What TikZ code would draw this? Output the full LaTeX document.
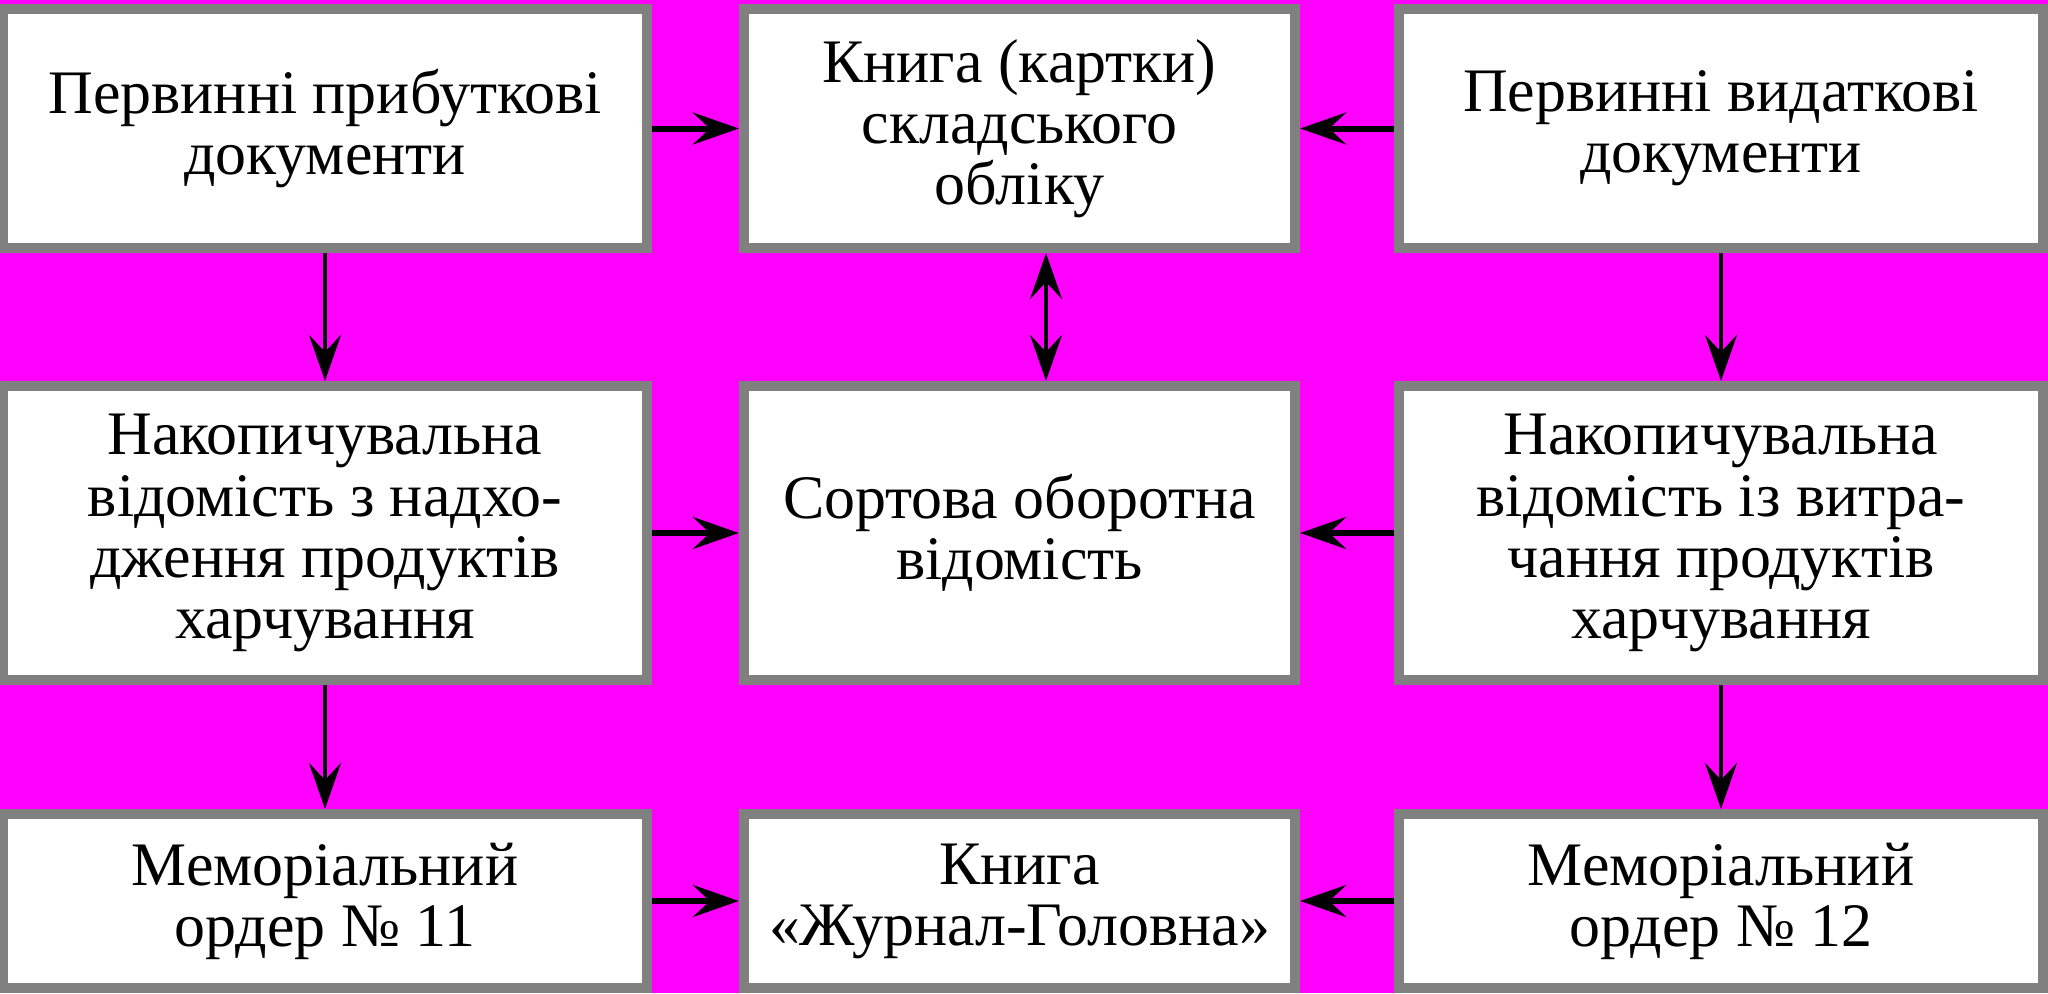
\documentclass[tikz,border=0pt]{standalone}
\usepackage{fontspec}
\setmainfont{Liberation Serif}
\usetikzlibrary{arrows.meta}
\definecolor{bgmag}{RGB}{255,0,255}
\definecolor{bordgray}{RGB}{128,128,128}

\begin{document}
\begin{tikzpicture}[x=0.01cm, y=-0.01cm,
  harr/.style={-{Stealth[length=4.6mm,width=3.2mm,inset=1.7mm]}, line width=0.6mm},
  varr/.style={-{Stealth[length=4.6mm,width=3.2mm,inset=1.7mm]}, line width=0.45mm}]
\tikzstyle{blk}=[rectangle, draw=bordgray, fill=white, line width=1mm, align=center, inner sep=0pt, font=\fontsize{17.6pt}{17.4pt}\selectfont]
\tikzstyle{side}=[blk, minimum width=6.44cm]
\tikzstyle{mid}=[blk, minimum width=5.51cm]
\fill[bgmag] (0,0) rectangle (2048,993);
\useasboundingbox (0,0) rectangle (2048,993);
\node[side, minimum height=2.39cm] (pp) at (325,128.5) {Первинні прибуткові\\документи};
\node[mid, minimum height=2.39cm] (ks) at (1019.5,128.5) {Книга (картки)\\складського\\обліку};
\node[side, minimum height=2.39cm] (pv) at (1721,128.5) {Первинні видаткові\\документи};
\node[side, minimum height=2.94cm] (nn) at (325,533) {Накопичувальна\\відомість з надхо-\\дження продуктів\\харчування};
\node[mid, minimum height=2.94cm] (so) at (1019.5,533) {Сортова оборотна\\відомість};
\node[side, minimum height=2.94cm] (nv) at (1721,533) {Накопичувальна\\відомість із витра-\\чання продуктів\\харчування};
\node[side, minimum height=1.74cm] (m11) at (325,901) {Меморіальний\\ордер № 11};
\node[mid, minimum height=1.74cm] (kz) at (1019.5,901) {Книга\\«Журнал-Головна»};
\node[side, minimum height=1.74cm] (m12) at (1721,901) {Меморіальний\\ордер № 12};
\foreach \i/\j in {pp/ks,pv/ks,nn/so,nv/so,m11/kz,m12/kz}{\draw[harr] (\i) -- (\j);}
\foreach \i/\j in {pp/nn,nn/m11,pv/nv,nv/m12}{\draw[varr] (\i) -- (\j);}
\draw[varr, {Stealth[length=4.6mm,width=3.2mm,inset=1.7mm]}-{Stealth[length=4.6mm,width=3.2mm,inset=1.7mm]}] ([xshift=2.65mm]ks.south) -- ([xshift=2.65mm]so.north);
\end{tikzpicture}
\end{document}
